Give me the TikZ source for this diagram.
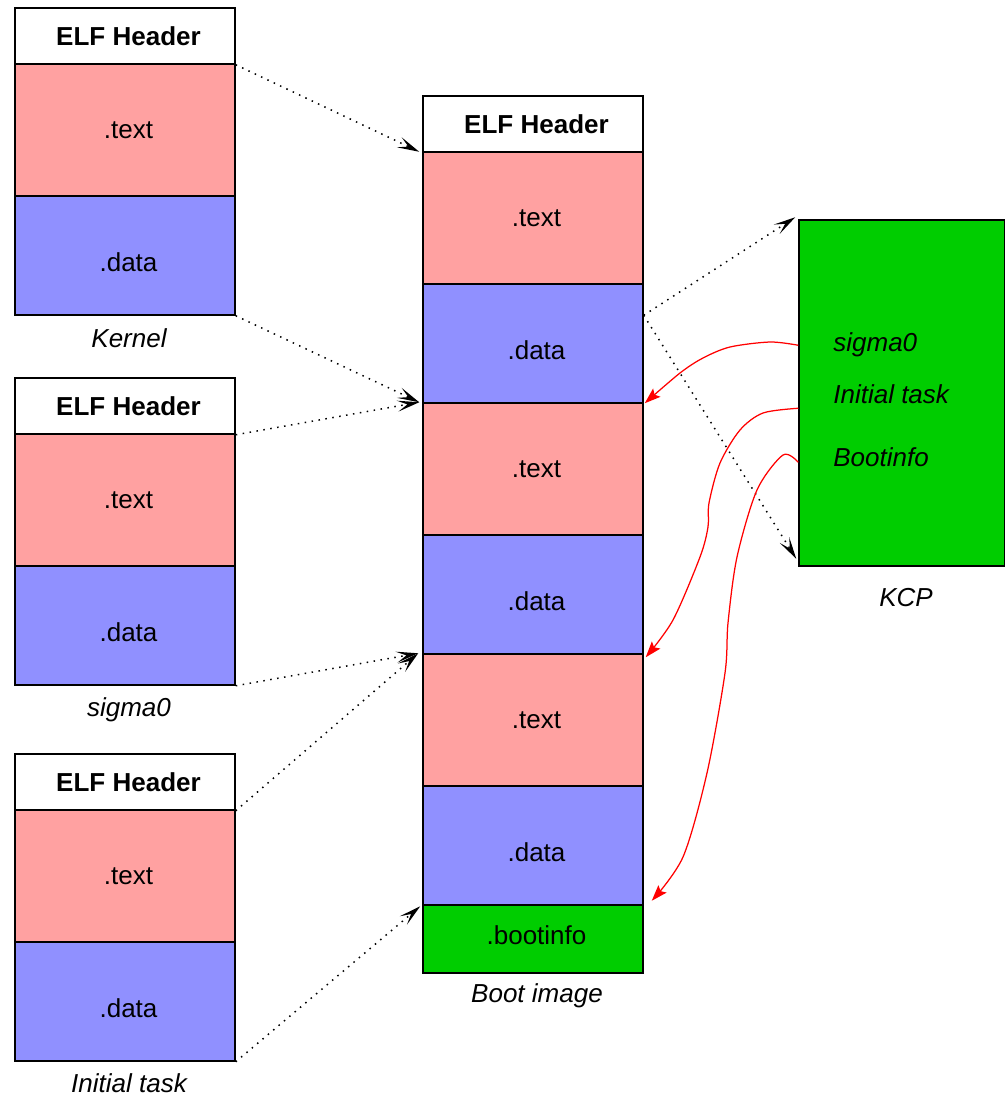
\documentclass[tikz,border=0pt]{standalone}
\usepackage{fontspec}
\setmainfont{Liberation Sans}
\usepackage{tikz}
\usetikzlibrary{calc}
\usetikzlibrary{arrows.meta}
\definecolor{secpink}{RGB}{255,161,161}
\definecolor{secblue}{RGB}{144,144,255}
\definecolor{secgreen}{RGB}{0,205,0}
\tikzset{ sec_box/.style = {rectangle, draw, line width=0.3mm, minimum width=44mm, inner sep=0pt, execute at begin node={\hspace*{1.4mm}}} }
\tikzset{ hdr_box/.style = {sec_box, fill=white, minimum height=11.2mm, font=\fontsize{14.8}{17}\selectfont\bfseries} }
\tikzset{ text_box/.style = {sec_box, fill=secpink, minimum height=26.4mm} }
\tikzset{ data_box/.style = {sec_box, fill=secblue, minimum height=23.8mm, text height=6.5mm, text depth=0mm} }
\tikzset{ boot_box/.style = {sec_box, fill=secgreen, minimum height=13.6mm, text height=3.7mm, text depth=1.6mm} }
\tikzset{ caption/.style = {font=\fontsize{14.8}{17}\selectfont\itshape} }
\tikzset{ copy_ptr/.style = {line width=0.3mm, dash pattern=on 0.3mm off 1.1mm, -{Stealth[length=4.4mm,width=2.2mm,inset=2mm]}} }
\tikzset{ fix_ptr/.style = {red, line width=0.25mm, -{Stealth[length=3.2mm,width=2.2mm,inset=0.6mm]}} }

\begin{document}
\begin{tikzpicture}[x=0.2mm, y=-0.2mm, font=\fontsize{14.8}{17}\selectfont]
            \useasboundingbox (0,0) rectangle (1005,1099);
            % kernel
            \node[hdr_box] (k_hdr) at (125,36) {ELF Header};
            \node[text_box] (k_text) at (125,130) {.text};
            \node[data_box] (k_data) at (125,255.5) {.data};
            \node[caption] (k_cap) at (129,338) {Kernel};
            % sigma0
            \node[hdr_box] (s_hdr) at (125,406) {ELF Header};
            \node[text_box] (s_text) at (125,500) {.text};
            \node[data_box] (s_data) at (125,625.5) {.data};
            \node[caption] (s_cap) at (129,710) {sigma0};
            % initial task
            \node[hdr_box] (i_hdr) at (125,782) {ELF Header};
            \node[text_box] (i_text) at (125,876) {.text};
            \node[data_box] (i_data) at (125,1001.5) {.data};
            \node[caption] (i_cap) at (129,1083) {Initial task};
            % boot image
            \node[hdr_box] (b_hdr) at (533,124) {ELF Header};
            \node[text_box] (b_text1) at (533,218) {.text};
            \node[data_box] (b_data1) at (533,343.5) {.data};
            \node[text_box] (b_text2) at (533,469) {.text};
            \node[data_box] (b_data2) at (533,594.5) {.data};
            \node[text_box] (b_text3) at (533,720) {.text};
            \node[data_box] (b_data3) at (533,845.5) {.data};
            \node[boot_box] (b_info) at (533,939) {.bootinfo};
            \node[caption] (b_cap) at (537,996) {Boot image};
            % kcp
            \node[rectangle, draw, line width=0.3mm, fill=secgreen, minimum width=41.2mm, minimum height=69.2mm] (kcp) at (902,393) {};
            \node[caption, anchor=west, inner sep=0pt] (kcp_s0) at (833,345) {sigma0};
            \node[caption, anchor=west, inner sep=0pt] (kcp_init) at (833,394) {Initial task};
            \node[caption, anchor=west, inner sep=0pt] (kcp_bi) at (833,457) {Bootinfo};
            \node[caption] (kcp_cap) at (906,598) {KCP};
            \coordinate (fork) at ($(b_data1.north east)+(0,32)$);
            \draw[copy_ptr] (k_hdr.south east) to ($(b_hdr.south west)+(-3,-1)$);
            \draw[copy_ptr] (k_data.south east) to ($(b_text2.north west)+(-3,0)$);
            \draw[copy_ptr] (s_hdr.south east) to ($(b_text2.north west)+(-3,0)$);
            \draw[copy_ptr] (s_data.south east) to ($(b_text3.north west)+(-4,0)$);
            \draw[copy_ptr] (i_hdr.south east) to ($(b_text3.north west)+(-4,0)$);
            \draw[copy_ptr] (i_data.south east) to ($(b_info.north west)+(-2,2)$);
            \draw[copy_ptr] (fork) to ($(kcp.north west)+(-3,-2)$);
            \draw[copy_ptr] (fork) to ($(kcp.south west)+(-2,-8)$);
            \draw[fix_ptr] plot[smooth] coordinates {($(kcp.north west)+(0,126)$) (770,342) (730,347) (703,358) (680,373) ($(b_text2.north east)+(1,1)$)};
            \draw[fix_ptr] plot[smooth] coordinates {($(kcp.north west)+(0,189)$) (763,413) (740,430) (720,463) (709,503) (708,527) (700,557) (673,620) ($(b_text3.north east)+(2,4)$)};
            \draw[fix_ptr] plot[smooth] coordinates {($(kcp.north west)+(0,243)$) (783,455) (757,490) (737,557) (728,623) (725,673) (707,773) (683,857) ($(b_data3.south east)+(8,-5)$)};
        \end{tikzpicture}
\end{document}
